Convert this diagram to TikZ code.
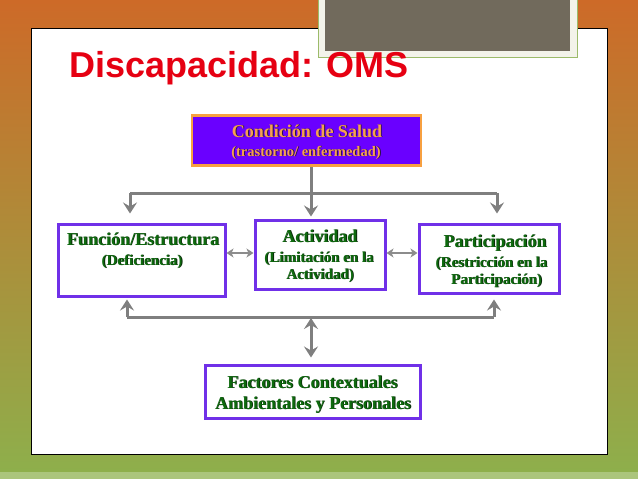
\documentclass[tikz,border=0pt]{standalone}
\usepackage{fontspec}
\setmainfont{Liberation Serif}
\newfontfamily\titlefont{Liberation Sans}
\usetikzlibrary{arrows.meta,calc}
\definecolor{bgorange}{HTML}{CD6A28}
\definecolor{bgmid}{HTML}{C79A40}
\definecolor{bggreen}{HTML}{8DB04C}
\definecolor{bgstripe}{HTML}{ABC57C}
\definecolor{boxpurple}{HTML}{7030E8}
\definecolor{condfill}{HTML}{6A00FF}
\definecolor{condorange}{HTML}{F7A040}
\definecolor{condtext}{HTML}{F5A050}
\definecolor{condshadow}{HTML}{2A1040}
\definecolor{txtgreen}{HTML}{0E6A0E}
\definecolor{greenshadow}{HTML}{0A2A0A}
\definecolor{conngrey}{HTML}{7F7F7F}
\definecolor{thingrey}{HTML}{8C8C8C}
\definecolor{titlered}{HTML}{E60012}
\definecolor{greybox}{HTML}{716A5C}
\definecolor{greyframe}{HTML}{F3F3EA}
\definecolor{greyline}{HTML}{9CBB6A}
\tikzset{
  boxnode/.style={draw=boxpurple, line width=3pt, fill=white, inner sep=0pt},
  condbox/.style={draw=condorange, line width=2.5pt, fill=condfill, inner sep=0pt},
  big/.style={font=\bfseries\fontsize{18}{18}\selectfont, text=txtgreen, anchor=base, inner sep=0pt},
  small/.style={font=\bfseries\fontsize{15}{15}\selectfont, text=txtgreen, anchor=base, inner sep=0pt},
  conn/.style={draw=conngrey, line width=3pt},
  arr/.style={conn, -{Stealth[width=14pt,length=11pt,inset=4pt]}},
  dblarr/.style={conn, {Stealth[width=14pt,length=11pt,inset=4pt]}-{Stealth[width=14pt,length=11pt,inset=4pt]}},
  thinarr/.style={draw=thingrey, line width=2pt, {Stealth[width=9pt,length=7pt,inset=2pt]}-{Stealth[width=9pt,length=7pt,inset=2pt]}}
}
% shadowed text: name, style, x, y, shadow colour, text
\newcommand{\shtext}[6]{%
  \node[#2, text=#5] (#1s) at ($(#3,#4)+(0.9,0.9)$) {#6};
  \node[#2] (#1) at (#3,#4) {#6};}
\begin{document}
\begin{tikzpicture}[x=1pt,y=-1pt]
\useasboundingbox (0,0) rectangle (638,479);
% background
\shade[top color=bgorange, middle color=bgmid, bottom color=bggreen] (0,0) rectangle (638,479);
\fill[bgstripe] (0,472) rectangle (638,479);
% white panel
\draw[fill=white, draw=black, line width=1pt] (31,28) rectangle (607,454);
% grey block at top
\draw[fill=greyframe, draw=greyline, line width=1pt] (318,-2) rectangle (577,57);
\fill[greybox] (325,-2) rectangle (570,51);
% title
\node[anchor=base west, inner sep=0pt, text=titlered, font=\titlefont\bfseries\fontsize{36}{36}\selectfont] (title) at (69,77) {Discapacidad: OMS};

% boxes
\node[condbox, minimum width=229pt, minimum height=50pt] (cond) at (306.5,140.5) {};
\node[boxnode, minimum width=167pt, minimum height=72pt] (fun) at (141.5,260) {};
\node[boxnode, minimum width=130pt, minimum height=69pt] (act) at (320,254.5) {};
\node[boxnode, minimum width=140pt, minimum height=69pt] (par) at (489,258.5) {};
\node[boxnode, minimum width=215pt, minimum height=53pt] (fac) at (312.5,391.5) {};

% condicion text with shadow
\shtext{condA}{big, text=condtext}{307}{137}{condshadow}{Condición de Salud}
\shtext{condB}{small, text=condtext, font=\bfseries\fontsize{14.5}{14.5}\selectfont}{306}{156}{condshadow}{(trastorno/ enfermedad)}

% funcion text
\shtext{funA}{big}{143}{245}{greenshadow}{Función/Estructura}
\shtext{funB}{small}{142}{265}{greenshadow}{(Deficiencia)}
% actividad text
\shtext{actA}{big}{320}{242}{greenshadow}{Actividad}
\shtext{actB}{small}{319}{262}{greenshadow}{(Limitación en la}
\shtext{actC}{small}{320}{279}{greenshadow}{Actividad)}
% participacion text
\shtext{parA}{big}{495}{247}{greenshadow}{Participación}
\shtext{parB}{small}{491.5}{267}{greenshadow}{(Restricción en la}
\shtext{parC}{small}{496.5}{284}{greenshadow}{Participación)}
% factores text
\shtext{facA}{big}{312.5}{388}{greenshadow}{Factores Contextuales}
\shtext{facB}{big}{313}{409}{greenshadow}{Ambientales y Personales}

% top connectors
\coordinate (jt) at (311,193);
\coordinate (jl) at (130,193);
\coordinate (jr) at (497,193);
\draw[conn] (jl) -- (jr);
\draw[arr, shorten >=2pt] (jt |- cond.south) -- (jt |- act.north);
\draw[arr, shorten >=9pt] (jl) -- (jl |- fun.north);
\draw[arr, shorten >=9pt] (jr) -- (jr |- par.north);

% side double arrows
\draw[thinarr] (fun.east) ++(0,-7) coordinate (fe) -- (fe -| act.west);
\draw[thinarr] (act.east) ++(0,-1.5) coordinate (ae) -- (ae -| par.west);

% bottom connectors
\coordinate (bm) at (311,317);
\coordinate (bl) at (127,317);
\coordinate (br) at (494,317);
\draw[conn] (bl) -- (br);
\draw[arr, shorten >=2pt] (bl) -- (bl |- fun.south);
\draw[arr, shorten >=5pt] (br) -- (br |- par.south);
\draw[dblarr, shorten <=1pt, shorten >=6pt] (bm) -- (bm |- fac.north);
\end{tikzpicture}
\end{document}
